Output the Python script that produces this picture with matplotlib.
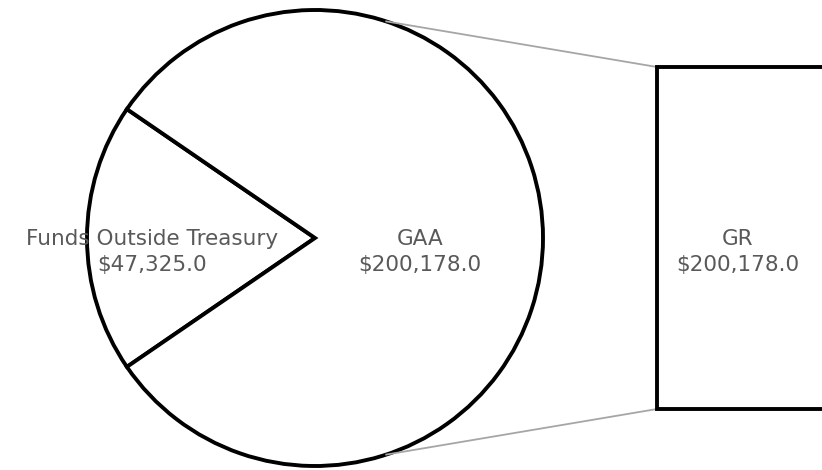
import numpy as np
import matplotlib
matplotlib.use("Agg")
import matplotlib.pyplot as plt

# pie slices and the bar breakdown
pie_labels = ["Funds Outside Treasury", "GAA"]
pie_values = [47325.0, 200178.0]
bar_labels = ["GR"]
bar_values = [200178.0]

W, H = 822, 470
fig = plt.figure(figsize=(W / 100, H / 100), dpi=100)
ax = fig.add_axes([0, 0, 1, 1])

cx, cy, r = 315, H - 238, 228
frac = pie_values[0] / sum(pie_values)
start = 180 - 360 * frac / 2
ax.pie(pie_values, center=(cx, cy), radius=r, startangle=start,
       colors=["white", "white"],
       wedgeprops=dict(edgecolor="black", linewidth=2.8, joinstyle="miter"),
       frame=True)
ax.set_xlim(0, W)
ax.set_ylim(0, H)
ax.set_aspect("equal")
ax.axis("off")

# bar (single piece)
bx, btop, bbot = 657, H - 67, H - 409
ax.bar(bx, btop - bbot, bottom=bbot, width=300, align="edge",
       color="white", edgecolor="black", linewidth=2.8, zorder=3)

# connector lines from pie to bar
ang = np.deg2rad(71.8)
ax.plot([cx + r * np.cos(ang), bx], [cy + r * np.sin(ang), btop],
        color="#a6a6a6", lw=1.3, zorder=1)
ax.plot([cx + r * np.cos(ang), bx], [cy - r * np.sin(ang), bbot],
        color="#a6a6a6", lw=1.3, zorder=1)

txt = dict(color="#595959", fontsize=15.5, family="DejaVu Sans",
           ha="center", va="center", linespacing=1.4, zorder=5)
ax.text(152, H - 252, f"{pie_labels[0]}\n${pie_values[0]:,.1f}", **txt)
ax.text(420, H - 252, f"{pie_labels[1]}\n${pie_values[1]:,.1f}", **txt)
ax.text(738, H - 252, f"{bar_labels[0]}\n${bar_values[0]:,.1f}", **txt)

fig.savefig("out.png", dpi=100)
